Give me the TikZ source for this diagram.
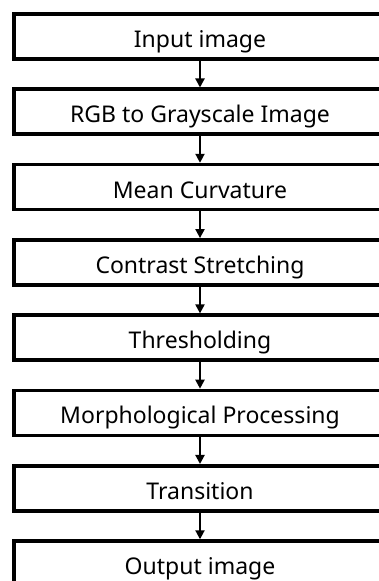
\documentclass[tikz,border=0pt]{standalone}
\usepackage{fontspec}
\setmainfont{Noto Sans}
\usetikzlibrary{arrows.meta}
\begin{document}
\begin{tikzpicture}[x=1pt,y=1pt,
  stage/.style={draw=black,line width=3.6pt,fill=white,rectangle,
    minimum width=372pt,minimum height=45pt,inner sep=0pt,
    text height=22pt,text depth=0pt,
    font=\fontsize{23pt}{26pt}\selectfont},
  flow/.style={line width=2pt,-{Triangle[length=9pt,width=9pt]}}]
  \useasboundingbox (0,0) rectangle (379,581);
  \clip (0,0) rectangle (379,581);
  \node[stage] (s1) at (200,544.5) {Input image};
  \node[stage] (s2) at (200,469.2) {RGB to Grayscale Image};
  \node[stage] (s3) at (200,393.9) {Mean Curvature};
  \node[stage] (s4) at (200,318.6) {Contrast Stretching};
  \node[stage] (s5) at (200,243.3) {Thresholding};
  \node[stage] (s6) at (200,168.0) {Morphological Processing};
  \node[stage] (s7) at (200,92.7) {Transition};
  \node[stage] (s8) at (200,17.4) {Output image};
  \foreach \a/\b in {s1/s2,s2/s3,s3/s4,s4/s5,s5/s6,s6/s7,s7/s8}
    \draw[flow] (\a.south) -- (\b.north);
\end{tikzpicture}
\end{document}
